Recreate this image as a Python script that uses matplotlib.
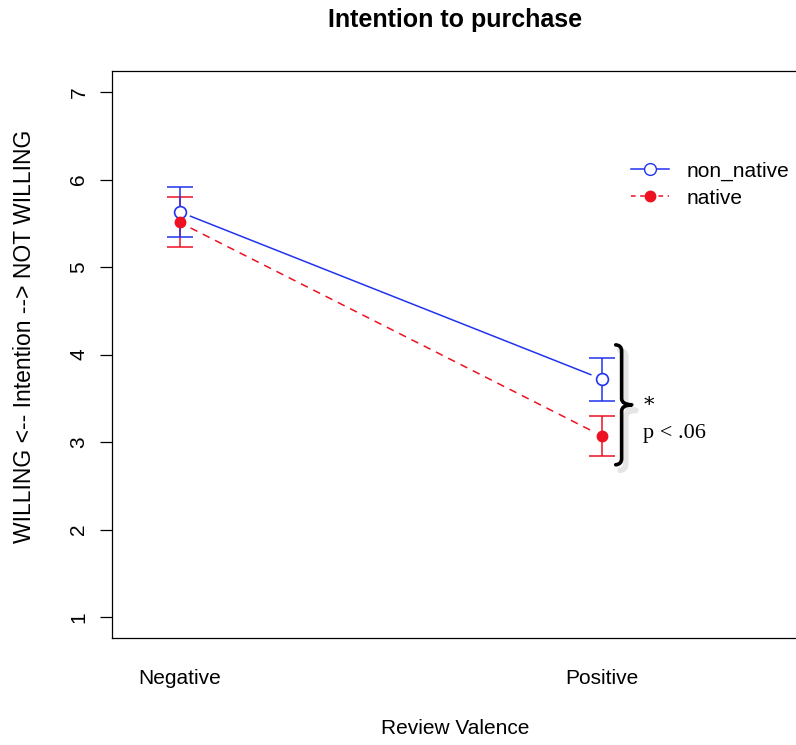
import matplotlib
matplotlib.use("Agg")
import matplotlib.pyplot as plt
import matplotlib.patheffects as pe
from matplotlib.path import Path
from matplotlib.patches import PathPatch
from matplotlib.lines import Line2D

# datos
valencia = ["Negative", "Positive"]
non_native = [5.63, 3.72]
non_native_sup = [5.91, 3.96]
non_native_inf = [5.34, 3.47]
native = [5.51, 3.07]
native_sup = [5.80, 3.30]
native_inf = [5.23, 2.84]

plt.rcParams["font.family"] = ["Liberation Sans", "DejaVu Sans"]

W, H = 796, 745
fig = plt.figure(figsize=(W / 100, H / 100), dpi=100)
ax = fig.add_axes([112 / W, 1 - 638 / H, 1 - 112 / W, (638 - 71) / H])

x = [1, 2]
azul = "#2233ee"
rojo = "#ee1122"

# lineas con hueco alrededor de los puntos (como type="b" en R)
def segmento(y0, y1, gap=0.026):
    dx = x[1] - x[0]
    xs = [x[0] + gap * dx, x[1] - gap * dx]
    ys = [y0 + gap * (y1 - y0), y1 - gap * (y1 - y0)]
    return xs, ys

xs, ys = segmento(non_native[0], non_native[1])
ax.plot(xs, ys, color=azul, lw=1.1)
xs, ys = segmento(native[0], native[1])
ax.plot(xs, ys, color=rojo, lw=1.1, ls=(0, (5, 4)))

# barras de error
for i in range(2):
    ax.errorbar(x[i], native[i],
                yerr=[[native[i] - native_inf[i]], [native_sup[i] - native[i]]],
                fmt="none", ecolor=rojo, elinewidth=1.1, capsize=9.5, capthick=1.1)
    ax.errorbar(x[i], non_native[i],
                yerr=[[non_native[i] - non_native_inf[i]], [non_native_sup[i] - non_native[i]]],
                fmt="none", ecolor=azul, elinewidth=1.1, capsize=9.5, capthick=1.1)

ax.plot(x, non_native, ls="none", marker="o", ms=8.5, mfc="white", mec=azul, mew=1.2, zorder=5)
ax.plot(x, native, ls="none", marker="o", ms=7.5, mfc=rojo, mec=rojo, zorder=5)

# llave con sombra
y_top, y_bot = 4.11, 2.74
y_mid = (y_top + y_bot) / 2
xa, xb, xc = 2.033, 2.047, 2.071
verts = [(xa, y_top), (xb, y_top - 0.005), (xb, y_top - 0.07),
         (xb, y_mid + 0.07),
         (xb, y_mid + 0.005), (xc, y_mid),
         (xb, y_mid - 0.005), (xb, y_mid - 0.07),
         (xb, y_bot + 0.07),
         (xb, y_bot + 0.005), (xa, y_bot)]
codes = [Path.MOVETO, Path.CURVE3, Path.CURVE3, Path.LINETO,
         Path.CURVE3, Path.CURVE3, Path.CURVE3, Path.CURVE3,
         Path.LINETO, Path.CURVE3, Path.CURVE3]
llave = PathPatch(Path(verts, codes), fill=False, lw=2.6, color="black",
                  capstyle="round", joinstyle="round", clip_on=False, zorder=6)
llave.set_path_effects([pe.SimpleLineShadow(offset=(3, -4), alpha=0.2, shadow_color="gray",
                                            linewidth=4),
                        pe.Normal()])
ax.add_patch(llave)

ax.text(2.112, 3.42, "*", fontsize=15, family="DejaVu Serif", ha="center", va="center")
ax.text(2.098, 3.1, "p < .06", fontsize=16, family="Liberation Serif", ha="left", va="center")

# ejes
ax.set_xlim(0.84, 2.46)
ax.set_ylim(0.76, 7.24)
ax.set_yticks(range(1, 8))
ax.set_yticklabels([str(v) for v in range(1, 8)], rotation=90, va="center", fontsize=15)
ax.tick_params(axis="y", length=9, width=0.9, pad=8)
ax.set_xticks(x)
ax.set_xticklabels(valencia, fontsize=15)
ax.tick_params(axis="x", length=0, pad=22)
for s in ax.spines.values():
    s.set_linewidth(0.9)
ax.spines["right"].set_visible(False)

fig.text(455 / W, 1 - 20 / H, "Intention to purchase", fontsize=18, fontweight="bold",
         ha="center", va="center")
fig.text(455 / W, 1 - 728 / H, "Review Valence", fontsize=15, ha="center", va="center")
fig.text(25 / W, 1 - 336 / H, "WILLING <-- Intention --> NOT WILLING", fontsize=16.5,
         rotation=90, ha="center", va="center")

handles = [Line2D([], [], color=azul, lw=1.1, marker="o", ms=8.5, mfc="white", mec=azul),
           Line2D([], [], color=rojo, lw=1.1, ls=(0, (3, 3)), marker="o", ms=7.5, mfc=rojo, mec=rojo)]
fig.legend(handles, ["non_native", "native"], loc="upper left",
           bbox_to_anchor=(621 / W, 1 - 151 / H), frameon=False, fontsize=15,
           handlelength=1.8, handletextpad=0.85, labelspacing=0.38, borderpad=0)

fig.savefig("out.png", dpi=100)
